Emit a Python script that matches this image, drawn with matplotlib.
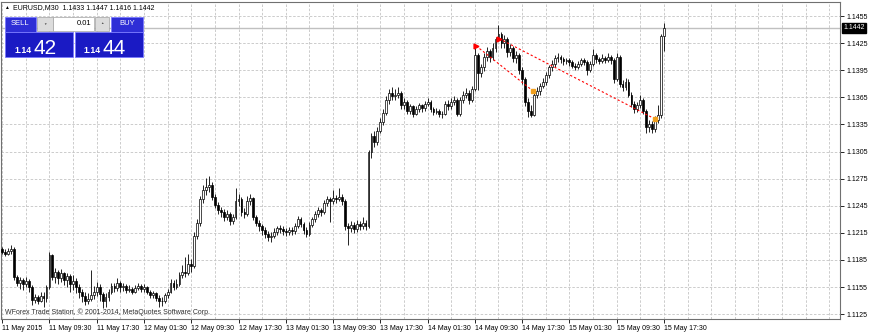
import matplotlib
matplotlib.use("Agg")
import matplotlib.pyplot as plt
import matplotlib.transforms as mtransforms
from matplotlib.patches import Rectangle
import numpy as np

plt.rcParams['font.family'] = ['Liberation Sans', 'DejaVu Sans']

# EURUSD M30 bars, 11 May 2015 01:30 .. 15 May 2015 17:30
# prices written as 5-digit integers: 11194 -> 1.1194
opens = [
    11197, 11194, 11192, 11195, 11197, 11166, 11160, 11163, 11158, 11162, 11155, 11141, 11144, 11140, 11145, 11143,
    11155, 11190, 11166, 11172, 11165, 11170, 11163, 11167, 11158, 11162, 11155, 11150, 11145, 11140, 11142, 11146,
    11150, 11155, 11147, 11140, 11144, 11150, 11156, 11154, 11159, 11155, 11156, 11152, 11153, 11150, 11154, 11156,
    11153, 11155, 11150, 11146, 11148, 11143, 11140, 11139, 11146, 11150, 11160, 11155, 11158, 11168, 11172, 11170,
    11180, 11178, 11212, 11226, 11252, 11262, 11266, 11268, 11255, 11246, 11240, 11238, 11233, 11236, 11228, 11232,
    11250, 11252, 11238, 11236, 11250, 11253, 11232, 11226, 11222, 11218, 11214, 11210, 11212, 11216, 11220, 11219,
    11217, 11216, 11218, 11217, 11222, 11230, 11225, 11218, 11214, 11224, 11230, 11236, 11240, 11238, 11248, 11252,
    11250, 11254, 11252, 11255, 11250, 11222, 11220, 11224, 11219, 11225, 11222, 11226, 11223, 11304, 11322, 11316,
    11328, 11338, 11348, 11362, 11370, 11366, 11368, 11370, 11356, 11360, 11350, 11355, 11347, 11352, 11356, 11353,
    11358, 11360, 11352, 11349, 11350, 11346, 11347, 11358, 11355, 11360, 11362, 11346, 11362, 11368, 11370, 11362,
    11374, 11412, 11392, 11398, 11410, 11416, 11410, 11420, 11430, 11435, 11425, 11430, 11415, 11420, 11408, 11412,
    11395, 11385, 11360, 11350, 11345, 11368, 11372, 11378, 11382, 11390, 11398, 11402, 11408, 11410, 11407, 11405,
    11406, 11404, 11400, 11398, 11402, 11406, 11404, 11395, 11402, 11412, 11407, 11405, 11409, 11406, 11410, 11406,
    11385, 11410, 11380, 11376, 11382, 11368, 11358, 11352, 11356, 11362, 11350, 11332, 11336, 11330, 11340, 11345,
    11433,
]
highs = [
    11199, 11197, 11198, 11201, 11199, 11168, 11166, 11165, 11166, 11164, 11157, 11147, 11146, 11149, 11150, 11157,
    11194, 11192, 11176, 11174, 11175, 11172, 11171, 11169, 11168, 11165, 11158, 11153, 11150, 11148, 11174, 11156,
    11161, 11158, 11150, 11148, 11153, 11160, 11159, 11165, 11162, 11160, 11158, 11157, 11155, 11157, 11159, 11158,
    11158, 11156, 11152, 11151, 11150, 11146, 11144, 11148, 11153, 11164, 11163, 11164, 11172, 11179, 11188, 11192,
    11186, 11216, 11230, 11256, 11268, 11276, 11278, 11271, 11258, 11249, 11244, 11241, 11240, 11238, 11236, 11265,
    11258, 11255, 11242, 11256, 11258, 11255, 11235, 11229, 11225, 11221, 11217, 11216, 11220, 11223, 11224, 11222,
    11220, 11221, 11221, 11226, 11234, 11232, 11227, 11221, 11227, 11233, 11239, 11244, 11243, 11251, 11256, 11255,
    11262, 11257, 11265, 11258, 11252, 11226, 11228, 11227, 11229, 11228, 11232, 11229, 11307, 11326, 11328, 11332,
    11342, 11352, 11366, 11374, 11376, 11374, 11376, 11372, 11364, 11362, 11358, 11357, 11355, 11359, 11358, 11361,
    11364, 11362, 11354, 11353, 11352, 11350, 11361, 11362, 11364, 11366, 11364, 11365, 11372, 11375, 11373, 11378,
    11423, 11414, 11402, 11414, 11421, 11418, 11425, 11432, 11445, 11437, 11434, 11432, 11424, 11422, 11416, 11414,
    11398, 11387, 11364, 11356, 11371, 11376, 11381, 11386, 11393, 11401, 11406, 11412, 11414, 11412, 11410, 11409,
    11409, 11406, 11403, 11405, 11409, 11408, 11406, 11405, 11418, 11414, 11410, 11413, 11411, 11414, 11412, 11408,
    11414, 11412, 11384, 11386, 11385, 11371, 11361, 11360, 11368, 11364, 11352, 11340, 11339, 11344, 11356, 11435,
    11447,
]
lows = [
    11191, 11189, 11190, 11192, 11163, 11156, 11153, 11152, 11155, 11150, 11135, 11137, 11136, 11138, 11133, 11138,
    11153, 11163, 11160, 11158, 11161, 11157, 11155, 11150, 11152, 11148, 11143, 11138, 11135, 11136, 11139, 11142,
    11145, 11140, 11132, 11133, 11140, 11147, 11150, 11151, 11150, 11151, 11148, 11149, 11147, 11148, 11152, 11150,
    11150, 11147, 11143, 11143, 11139, 11133, 11134, 11137, 11143, 11148, 11152, 11153, 11156, 11165, 11166, 11168,
    11172, 11176, 11208, 11222, 11248, 11257, 11260, 11251, 11242, 11236, 11233, 11228, 11229, 11224, 11225, 11230,
    11245, 11234, 11231, 11234, 11246, 11229, 11222, 11217, 11213, 11209, 11206, 11205, 11209, 11213, 11215, 11213,
    11212, 11213, 11213, 11214, 11220, 11221, 11214, 11210, 11212, 11221, 11227, 11233, 11234, 11236, 11245, 11227,
    11247, 11248, 11250, 11246, 11218, 11202, 11216, 11215, 11216, 11218, 11219, 11218, 11220, 11298, 11310, 11312,
    11325, 11334, 11345, 11358, 11362, 11362, 11364, 11352, 11352, 11346, 11347, 11343, 11345, 11349, 11349, 11350,
    11355, 11349, 11345, 11346, 11343, 11342, 11345, 11351, 11352, 11357, 11344, 11344, 11359, 11364, 11358, 11360,
    11372, 11373, 11388, 11394, 11405, 11404, 11406, 11415, 11427, 11420, 11420, 11410, 11411, 11404, 11403, 11391,
    11380, 11355, 11343, 11343, 11344, 11364, 11368, 11375, 11379, 11386, 11394, 11399, 11404, 11403, 11401, 11402,
    11400, 11397, 11395, 11396, 11400, 11401, 11390, 11393, 11400, 11403, 11402, 11403, 11403, 11404, 11402, 11381,
    11383, 11376, 11372, 11373, 11365, 11354, 11348, 11349, 11353, 11346, 11325, 11327, 11326, 11327, 11337, 11342,
    11416,
]
closes = [
    11194, 11192, 11195, 11197, 11166, 11160, 11163, 11158, 11162, 11155, 11141, 11144, 11140, 11145, 11143, 11155,
    11190, 11166, 11172, 11165, 11170, 11163, 11167, 11158, 11162, 11155, 11150, 11145, 11140, 11142, 11146, 11150,
    11155, 11147, 11140, 11144, 11150, 11156, 11154, 11159, 11155, 11156, 11152, 11153, 11150, 11154, 11156, 11153,
    11155, 11150, 11146, 11148, 11143, 11140, 11139, 11146, 11150, 11160, 11155, 11158, 11168, 11172, 11170, 11180,
    11178, 11212, 11226, 11252, 11262, 11266, 11268, 11255, 11246, 11240, 11238, 11233, 11236, 11228, 11232, 11250,
    11252, 11238, 11236, 11250, 11253, 11232, 11226, 11222, 11218, 11214, 11210, 11212, 11216, 11220, 11219, 11217,
    11216, 11218, 11217, 11222, 11230, 11225, 11218, 11214, 11224, 11230, 11236, 11240, 11238, 11248, 11252, 11250,
    11254, 11252, 11255, 11250, 11222, 11220, 11224, 11219, 11225, 11222, 11226, 11223, 11304, 11322, 11316, 11328,
    11338, 11348, 11362, 11370, 11366, 11368, 11370, 11356, 11360, 11350, 11355, 11347, 11352, 11356, 11353, 11358,
    11360, 11352, 11349, 11350, 11346, 11347, 11358, 11355, 11360, 11362, 11346, 11362, 11368, 11370, 11362, 11374,
    11412, 11392, 11398, 11410, 11416, 11410, 11420, 11430, 11435, 11425, 11430, 11415, 11420, 11408, 11412, 11395,
    11385, 11360, 11350, 11345, 11368, 11372, 11378, 11382, 11390, 11398, 11402, 11408, 11410, 11407, 11405, 11406,
    11404, 11400, 11398, 11402, 11406, 11404, 11395, 11402, 11412, 11407, 11405, 11409, 11406, 11410, 11406, 11385,
    11410, 11380, 11376, 11382, 11368, 11358, 11352, 11356, 11362, 11350, 11332, 11336, 11330, 11340, 11345, 11433,
    11442,
]

time_labels = ["11 May 2015", "11 May 09:30", "11 May 17:30", "12 May 01:30", "12 May 09:30",
               "12 May 17:30", "13 May 01:30", "13 May 09:30", "13 May 17:30", "14 May 01:30",
               "14 May 09:30", "14 May 17:30", "15 May 01:30", "15 May 09:30", "15 May 17:30"]
price_ticks = [1.1125, 1.1155, 1.1185, 1.1215, 1.1245, 1.1275, 1.1305,
               1.1335, 1.1365, 1.1395, 1.1425, 1.1455]

# closed trades (bar position, price)
trade_open_bar = [160.4, 168.2]
trade_open_price = [1.1422, 1.1430]
trade_close_bar = [179.7, 221.0]
trade_close_price = [1.1372, 1.1341]

title = "EURUSD,M30  1.1433 1.1447 1.1416 1.1442"
copyright_txt = "WForex Trade Station, \u00a9 2001-2014, MetaQuotes Software Corp."

o = np.array(opens) / 10000.0
h = np.array(highs) / 10000.0
l = np.array(lows) / 10000.0
c = np.array(closes) / 10000.0
n = len(c)
idx = np.arange(n)

fig = plt.figure(figsize=(8.7, 3.33), dpi=100)
W, H = 870.0, 333.0
ax = fig.add_axes([1 / W, 1 - 319 / H, 839 / W, 317 / H])

grid_kw = dict(color='#c4c4c4', linestyle=(0, (3, 2)), linewidth=0.6)

# candles
up = c >= o
body_lo = np.minimum(o, c)
body_h = np.maximum(np.abs(c - o), 0.00002)
ax.vlines(idx, l, h, color='black', linewidth=0.6, zorder=3)
ax.bar(idx[up], body_h[up], bottom=body_lo[up], width=0.62, color='white',
       edgecolor='black', linewidth=0.5, zorder=4)
ax.bar(idx[~up], body_h[~up], bottom=body_lo[~up], width=0.62, color='black',
       edgecolor='black', linewidth=0.5, zorder=4)

# bid line
ax.axhline(c[-1], color='#c0c0c0', linewidth=1.0, zorder=2)

# trade history lines
for ob, op, cb, cp in zip(trade_open_bar, trade_open_price, trade_close_bar, trade_close_price):
    ax.plot([ob, cb], [op, cp], color='red', linestyle=(0, (2, 2)), linewidth=0.8, zorder=5)
    ax.plot(ob, op, marker='>', color='red', markersize=3.5, zorder=6)
    ax.plot(cb, cp, marker='s', color='#f0a020', markersize=2.5, zorder=6)

ax.set_xlim(-0.4, 283.6)
ax.set_ylim(1.11196, 1.14705)

ax.set_xticks(np.arange(0, n, 16))
ax.set_xticklabels(time_labels, ha='left')
ax.set_xticks(np.arange(8, 284, 8), minor=True)
ax.xaxis.grid(True, which='both', **grid_kw)

ax.yaxis.tick_right()
ax.set_yticks(price_ticks)
ax.set_yticklabels([f"{p:.4f}" for p in price_ticks])
ax.yaxis.grid(True, which='major', **grid_kw)
ax.set_axisbelow(True)

ax.tick_params(axis='x', which='major', length=3, width=0.6, pad=1.5, labelsize=5, colors='black')
ax.tick_params(axis='x', which='minor', length=0)
ax.tick_params(axis='y', length=3, width=0.6, pad=1.5, labelsize=5, colors='black')
for sp in ax.spines.values():
    sp.set_color('#707070')
    sp.set_linewidth(0.8)

# current price box on the price scale
trans = mtransforms.blended_transform_factory(ax.transAxes, ax.transData)
ax.text(1.004, c[-1], f"{c[-1]:.4f}", transform=trans, color='white', fontsize=5,
        va='center', ha='left', clip_on=False, zorder=10,
        bbox=dict(boxstyle='square,pad=0.2', fc='black', ec='black'))

# overlay in pixel coordinates: header, one-click panel, copyright
ov = fig.add_axes([0, 0, 1, 1])
ov.set_xlim(0, W)
ov.set_ylim(H, 0)
ov.axis('off')
ov.patch.set_alpha(0)

ov.text(6, 7.5, "\u25b2", fontsize=3.5, ha='center', va='center', color='black')
ov.text(13, 7.5, title, fontsize=5, ha='left', va='center', color='black')

btn = '#2e2ed6'
box = '#1a1ac4'
edge = '#7a7aff'
ov.add_patch(Rectangle((5, 17), 31, 14.5, fc=btn, ec=edge, lw=0.6))
ov.add_patch(Rectangle((111, 17), 32, 14.5, fc=btn, ec=edge, lw=0.6))
ov.add_patch(Rectangle((5, 31.5), 68.5, 25.5, fc=box, ec=edge, lw=0.6))
ov.add_patch(Rectangle((75, 31.5), 68, 25.5, fc=box, ec=edge, lw=0.6))
ov.add_patch(Rectangle((37.5, 17), 15.5, 13.5, fc='#dcdcdc', ec='#a0a0a0', lw=0.5))
ov.add_patch(Rectangle((53, 17), 41.5, 13.5, fc='white', ec='#a0a0a0', lw=0.5))
ov.add_patch(Rectangle((95, 17), 14, 13.5, fc='#dcdcdc', ec='#a0a0a0', lw=0.5))
ov.text(45.2, 23.5, "\u25bc", fontsize=2.5, ha='center', va='center', color='#505050')
ov.text(102, 23.5, "\u25b2", fontsize=2.5, ha='center', va='center', color='#505050')
ov.text(91, 23.8, "0.01", fontsize=5.5, ha='right', va='center', color='black')
ov.text(20.5, 23.8, "SELL", fontsize=5.5, ha='center', va='center', color='white')
ov.text(127, 23.8, "BUY", fontsize=5.5, ha='center', va='center', color='white')
ov.text(14, 53, "1.14", fontsize=6.3, fontweight='bold', ha='left', va='baseline', color='white')
ov.text(34, 54, "42", fontsize=15, ha='left', va='baseline', color='white')
ov.text(83, 53, "1.14", fontsize=6.3, fontweight='bold', ha='left', va='baseline', color='white')
ov.text(103, 54, "44", fontsize=15, ha='left', va='baseline', color='white')

ov.text(5, 312.5, copyright_txt, fontsize=5, ha='left', va='center', color='#303030')

fig.savefig("out.png", dpi=100, facecolor='white')
